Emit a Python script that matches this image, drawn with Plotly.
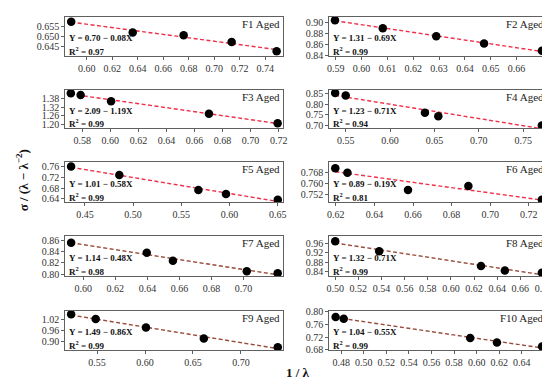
import numpy as np
import plotly.graph_objects as go

# ---- data ----
names = ["F1 Aged", "F2 Aged", "F3 Aged", "F4 Aged", "F5 Aged",
         "F6 Aged", "F7 Aged", "F8 Aged", "F9 Aged", "F10 Aged"]

x_F1 = [0.5877, 0.6360, 0.6760, 0.7137, 0.7490]
y_F1 = [0.6570, 0.6519, 0.6506, 0.6473, 0.6428]
x_F2 = [0.5897, 0.6082, 0.6289, 0.6474, 0.6698]
y_F2 = [0.9047, 0.8900, 0.8753, 0.8618, 0.8488]
x_F3 = [0.5718, 0.5788, 0.6005, 0.6703, 0.7193]
y_F3 = [1.414, 1.401, 1.359, 1.275, 1.211]
x_F4 = [0.5381, 0.5500, 0.6393, 0.6544, 0.7711]
y_F4 = [0.853, 0.841, 0.759, 0.742, 0.698]
x_F5 = [0.4357, 0.4857, 0.5677, 0.5963, 0.6500]
y_F5 = [0.7600, 0.7285, 0.6727, 0.6580, 0.6360]
x_F6 = [0.6197, 0.6260, 0.6574, 0.6887, 0.7268]
y_F6 = [0.7713, 0.7680, 0.7553, 0.7582, 0.7482]
x_F7 = [0.5924, 0.6396, 0.6559, 0.7020, 0.7213]
y_F7 = [0.8553, 0.8377, 0.8235, 0.8047, 0.8012]
x_F8 = [0.5000, 0.5380, 0.6260, 0.6466, 0.6786]
y_F8 = [0.970, 0.927, 0.863, 0.844, 0.834]
x_F9 = [0.5230, 0.5486, 0.6010, 0.6613, 0.7384]
y_F9 = [1.0514, 1.0255, 0.9785, 0.9166, 0.8668]
x_F10 = [0.4751, 0.4823, 0.5943, 0.6180, 0.6580]
y_F10 = [0.7834, 0.7776, 0.7171, 0.7024, 0.6898]

equations = ["Y = 0.70 − 0.08X", "Y = 1.31 − 0.69X", "Y = 2.09 − 1.19X",
             "Y = 1.23 − 0.71X", "Y = 1.01 − 0.58X", "Y = 0.89 − 0.19X",
             "Y = 1.14 − 0.48X", "Y = 1.32 − 0.71X", "Y = 1.49 − 0.86X",
             "Y = 1.04 − 0.55X"]
r2_values = ["0.97", "0.99", "0.99", "0.94", "0.99", "0.81", "0.98", "0.99", "0.99", "0.99"]

# tick labels per panel
xt_F1 = ["0.60", "0.62", "0.64", "0.66", "0.68", "0.70", "0.72", "0.74"]
xt_F2 = ["0.59", "0.60", "0.61", "0.62", "0.63", "0.64", "0.65", "0.66"]
xt_F3 = ["0.58", "0.60", "0.62", "0.64", "0.66", "0.68", "0.70", "0.72"]
xt_F4 = ["0.55", "0.60", "0.65", "0.70", "0.75"]
xt_F5 = ["0.45", "0.50", "0.55", "0.60", "0.65"]
xt_F6 = ["0.62", "0.64", "0.66", "0.68", "0.70", "0.72"]
xt_F7 = ["0.60", "0.62", "0.64", "0.66", "0.68", "0.70"]
xt_F8 = ["0.50", "0.52", "0.54", "0.56", "0.58", "0.60", "0.62", "0.64", "0.66", "0.68"]
xt_F9 = ["0.55", "0.60", "0.65", "0.70"]
xt_F10 = ["0.48", "0.50", "0.52", "0.54", "0.56", "0.58", "0.60", "0.62", "0.64"]

yt_F1 = ["0.645", "0.650", "0.655"]
yt_F2 = ["0.84", "0.86", "0.88", "0.90"]
yt_F3 = ["1.20", "1.26", "1.32", "1.38"]
yt_F4 = ["0.70", "0.75", "0.80", "0.85"]
yt_F5 = ["0.64", "0.68", "0.72", "0.76"]
yt_F6 = ["0.752", "0.760", "0.768"]
yt_F7 = ["0.80", "0.82", "0.84", "0.86"]
yt_F8 = ["0.84", "0.88", "0.92", "0.96"]
yt_F9 = ["0.90", "0.96", "1.02"]
yt_F10 = ["0.68", "0.72", "0.76", "0.80"]

xs = [x_F1, x_F2, x_F3, x_F4, x_F5, x_F6, x_F7, x_F8, x_F9, x_F10]
ys = [y_F1, y_F2, y_F3, y_F4, y_F5, y_F6, y_F7, y_F8, y_F9, y_F10]
xticks = [xt_F1, xt_F2, xt_F3, xt_F4, xt_F5, xt_F6, xt_F7, xt_F8, xt_F9, xt_F10]
yticks = [yt_F1, yt_F2, yt_F3, yt_F4, yt_F5, yt_F6, yt_F7, yt_F8, yt_F9, yt_F10]

x_ranges = [[0.583, 0.754], [0.5875, 0.6718], [0.5678, 0.7231], [0.5315, 0.777], [0.4296, 0.6554],
            [0.6166, 0.7295], [0.5887, 0.7246], [0.4949, 0.6831], [0.5168, 0.7438], [0.4695, 0.6624]]
y_ranges = [[0.6406, 0.6594], [0.8394, 0.9106], [1.179, 1.436], [0.686, 0.868], [0.6279, 0.777],
            [0.7465, 0.7759], [0.7965, 0.867], [0.82, 0.9929], [0.852, 1.0698], [0.679, 0.802]]

W, H = 550, 385
col_px = [(55, 276), (323, 544)]
row_px = [(4, 44), (79, 118), (153, 194), (229, 270), (306, 346)]

line_colors = ["#f0304a"] * 6 + ["#9a4a3a"] * 4

fig = go.Figure()
serif = "Liberation Serif"

for i in range(10):
    n = i + 1
    r, c = divmod(i, 2)
    xa = "x" if n == 1 else f"x{n}"
    ya = "y" if n == 1 else f"y{n}"
    xv = np.array(xs[i]); yv = np.array(ys[i])
    k, b = np.polyfit(xv, yv, 1)
    xl = np.array([xv.min(), xv.max()])
    fig.add_trace(go.Scatter(x=xl, y=k * xl + b, mode="lines",
                             line=dict(color=line_colors[i], width=1.4, dash="4px,2.5px"),
                             xaxis=xa, yaxis=ya, showlegend=False, hoverinfo="skip"))
    fig.add_trace(go.Scatter(x=xv, y=yv, mode="markers",
                             marker=dict(color="black", size=8.5),
                             xaxis=xa, yaxis=ya, showlegend=False))
    x0, x1 = col_px[c]
    t0, t1 = row_px[r]
    axis_common = dict(showline=True, mirror=True, linecolor="#606060", linewidth=1,
                       ticks="outside", ticklen=3, tickcolor="#606060",
                       showgrid=False, zeroline=False)
    fig.layout[("xaxis" if n == 1 else f"xaxis{n}")] = dict(
        domain=[x0 / W, x1 / W], anchor=ya, range=x_ranges[i],
        tickmode="array", tickvals=[float(t) for t in xticks[i]], ticktext=xticks[i],
        **axis_common)
    fig.layout[("yaxis" if n == 1 else f"yaxis{n}")] = dict(
        domain=[1 - t1 / H, 1 - t0 / H], anchor=xa, range=y_ranges[i],
        tickmode="array", tickvals=[float(t) for t in yticks[i]], ticktext=yticks[i],
        **axis_common)
    fig.add_annotation(text=names[i], xref=f"{xa} domain", yref=f"{ya} domain",
                       x=0.995, y=0.82, xanchor="right", yanchor="middle", showarrow=False,
                       font=dict(family=serif, size=11, color="#222"))
    fig.add_annotation(text=f"<b>{equations[i]}</b>", xref=f"{xa} domain", yref=f"{ya} domain",
                       x=0.01, y=0.45, xanchor="left", yanchor="middle", showarrow=False,
                       font=dict(family=serif, size=9, color="#111"))
    fig.add_annotation(text=f"<b>R<sup>2</sup> = {r2_values[i]}</b>", xref=f"{xa} domain", yref=f"{ya} domain",
                       x=0.01, y=0.13, xanchor="left", yanchor="middle", showarrow=False,
                       font=dict(family=serif, size=9, color="#111"))

fig.add_annotation(text="<b>σ / (λ − λ<sup>−2</sup>)</b>", xref="paper", yref="paper",
                   x=11 / W, y=1 - 172 / H, textangle=-90, showarrow=False,
                   xanchor="center", yanchor="middle",
                   font=dict(family=serif, size=13, color="#111"))
fig.add_annotation(text="<b>1 / λ</b>", xref="paper", yref="paper",
                   x=291 / W, y=1 - 369 / H, showarrow=False,
                   xanchor="center", yanchor="middle",
                   font=dict(family=serif, size=13, color="#111"))

fig.update_xaxes(tickfont=dict(family=serif, size=10, color="#333"))
fig.update_yaxes(tickfont=dict(family=serif, size=10, color="#333"))
fig.update_layout(width=W, height=H, margin=dict(l=0, r=0, t=0, b=0),
                  font=dict(family=serif, size=10, color="#333"),
                  paper_bgcolor="white", plot_bgcolor="white")
fig.write_html("out.html")
